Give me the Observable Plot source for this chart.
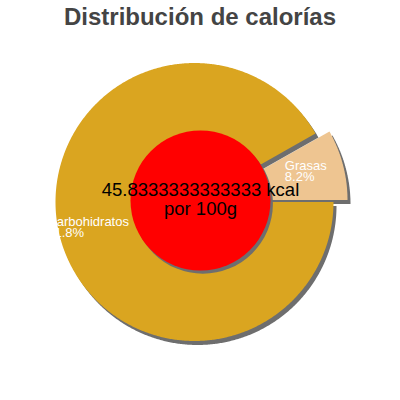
<!DOCTYPE html>
<html><head><meta charset="utf-8">
<script src="https://cdn.jsdelivr.net/npm/d3@7"></script>
<script src="https://cdn.jsdelivr.net/npm/@observablehq/plot@0.6"></script>
<style>
body{margin:0;background:#fff;font-family:'Liberation Sans',Arial,sans-serif;}
#title{width:400px;height:40px;box-sizing:border-box;padding-top:2px;line-height:30px;text-align:center;font-weight:bold;font-size:24px;color:#444;}
#chart svg{display:block;}
</style></head><body>
<div id="title">Distribución de calorías</div>
<div id="chart"></div>
<script>
// ---- data ----
const categories = ["Grasas", "Carbohidratos"];
const percents = [8.2, 91.8];
const colors = ["#EEC591", "#DAA520"];
const energyKcal = "45.8333333333333";
const energyUnit = "kcal";
const energyBasis = "por 100g";

// ---- layout ----
const W = 400, H = 360;
const cx = 194, cy = 161.5, r = 139;
const hubX = 200, hubY = 160, hubR = 70;
const explodeIndex = 0;
const explode = [14, -2];
const shadow = [3, 4];
const shadowColor = "#6e6e6e";
const labelR = 110;
const labelFont = 13;
const FONT = "Liberation Sans";

const total = d3.sum(percents);
let acc = 0;
const slices = categories.map((name, i) => {
  const a0 = acc / total * 2 * Math.PI;
  acc += percents[i];
  const a1 = acc / total * 2 * Math.PI;
  const off = i === explodeIndex ? explode : [0, 0];
  return {name, pct: percents[i], color: colors[i], a0, a1, off};
});

function polygon(s, shift) {
  const ox = cx + s.off[0] + shift[0], oy = cy + s.off[1] + shift[1];
  const pts = [{x: ox, y: oy}];
  const n = Math.max(2, Math.ceil((s.a1 - s.a0) / (Math.PI / 360)));
  for (let k = 0; k <= n; k++) {
    const a = s.a0 + (s.a1 - s.a0) * k / n;
    pts.push({x: ox + r * Math.cos(a), y: oy - r * Math.sin(a)});
  }
  return pts;
}

const ctx = document.createElement("canvas").getContext("2d");
ctx.font = `${labelFont}px '${FONT}'`;
const labels = slices.map(s => {
  const m = (s.a0 + s.a1) / 2;
  const lines = [s.name, s.pct.toFixed(1) + "%"];
  const w = d3.max(lines, t => ctx.measureText(t).width);
  const ax = cx + labelR * Math.cos(m) + s.off[0] * 0.35;
  const ay = cy - labelR * Math.sin(m) - 2;
  return {text: lines.join("\n"), x: ax - w / 2, y: ay};
});

const marks = [];
slices.forEach(s => {
  marks.push(Plot.line(polygon(s, shadow), {x: "x", y: "y", fill: shadowColor, stroke: "none", curve: "linear-closed"}));
  marks.push(Plot.line(polygon(s, [0, 0]), {x: "x", y: "y", fill: s.color, stroke: "none", curve: "linear-closed"}));
});
marks.push(Plot.dot([energyKcal], {x: () => hubX + shadow[0] * 0.8, y: () => hubY + shadow[1] * 0.8, r: hubR, fill: shadowColor, stroke: "none"}));
marks.push(Plot.dot([energyKcal], {x: () => hubX, y: () => hubY, r: hubR, fill: "#ff0000", stroke: "none"}));
marks.push(Plot.text(labels, {x: "x", y: "y", text: "text", textAnchor: "start", lineAnchor: "middle", lineHeight: 11 / labelFont, fontSize: labelFont, fill: "white", fontFamily: FONT}));
marks.push(Plot.text([`${energyKcal} ${energyUnit}\n${energyBasis}`], {x: () => hubX, y: () => hubY, dy: -0.7, text: d => d, textAnchor: "middle", lineAnchor: "middle", lineHeight: 1, fontSize: 18.5, fill: "black", fontFamily: FONT}));

const chart = Plot.plot({
  width: W, height: H,
  margin: 0,
  x: {domain: [0, W], range: [0, W], axis: null},
  y: {domain: [0, H], range: [0, H], axis: null},
  style: {fontFamily: FONT, background: "white"},
  marks
});
document.getElementById("chart").appendChild(chart);
</script>
</body></html>
